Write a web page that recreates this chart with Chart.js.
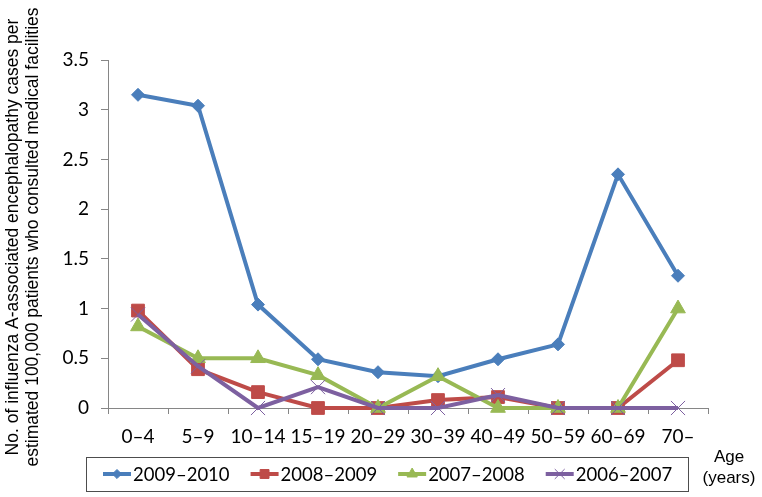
<!DOCTYPE html>
<html>
<head>
<meta charset="utf-8">
<script src="https://cdn.jsdelivr.net/npm/chart.js@4.4.1/dist/chart.umd.min.js"></script>
<style>
  html, body { margin: 0; padding: 0; background: #fff; }
  #wrap { width: 762px; height: 497px; position: relative; }
</style>
</head>
<body>
<div id="wrap"><canvas id="myChart" width="762" height="497"></canvas></div>
<script>
// age groups on the x axis
var ageGroups = ["0\u20134", "5\u20139", "10\u201314", "15\u201319", "20\u201329", "30\u201339", "40\u201349", "50\u201359", "60\u201369", "70\u2013"];

// cases per estimated 100,000 patients, one array per season
var season0910 = [3.15, 3.04, 1.04, 0.49, 0.36, 0.32, 0.49, 0.64, 2.35, 1.33];
var season0809 = [0.98, 0.39, 0.16, 0, 0, 0.08, 0.11, 0, 0, 0.48];
var season0708 = [0.82, 0.50, 0.50, 0.33, 0, 0.32, 0, 0, 0, 1.00];
var season0607 = [0.94, 0.42, 0, 0.21, 0, 0, 0.13, 0, 0, 0];

var seasonNames = ["2009\u20132010", "2008\u20132009", "2007\u20132008", "2006\u20132007"];
var yTicks = [0, 0.5, 1, 1.5, 2, 2.5, 3, 3.5];

var yTitle = ["No. of influenza A-associated encephalopathy cases per",
              "estimated 100,000 patients who consulted medical facilities"];
var xTitle = ["Age", "(years)"];

var tickFont = "Lato, Carlito, sans-serif";
var axisColor = "#868686";

function series(label, values, color, style, radius, order) {
	return {
		label: label,
		data: values,
		borderColor: color,
		backgroundColor: color,
		pointBackgroundColor: color,
		pointBorderColor: color,
		pointBorderWidth: 1,
		pointStyle: style,
		pointRadius: radius,
		pointHoverRadius: radius,
		borderWidth: 4,
		tension: 0,
		clip: false,
		order: order
	};
}

var datasets = [
	series(seasonNames[0], season0910, "#4A7EBB", "rectRot", 6.5, 4),
	series(seasonNames[1], season0809, "#BE4B48", "rect", 9, 3),
	series(seasonNames[2], season0708, "#98B954", "triangle", 8.5, 2),
	series(seasonNames[3], season0607, "#7D60A0", "crossRot", 10, 1)
];

// y title, legend box and "Age (years)" drawn by hand
var extras = {
	id: "extras",
	afterDraw: function(chart) {
		var ctx = chart.ctx;
		ctx.save();
		ctx.fillStyle = "#000";
		ctx.font = "17.5px 'Liberation Sans', Arial, sans-serif";
		ctx.textAlign = "center";
		ctx.textBaseline = "middle";
		ctx.save();
		ctx.translate(13, 237);
		ctx.rotate(-Math.PI / 2);
		ctx.fillText(yTitle[0], 0, 0);
		ctx.fillText(yTitle[1], 0, 20);
		ctx.restore();

		ctx.font = "17px 'Liberation Sans', Arial, sans-serif";
		ctx.fillText(xTitle[0], 729, 457);
		ctx.fillText(xTitle[1], 729, 478);

		// legend
		ctx.strokeStyle = "#4d4d4d";
		ctx.lineWidth = 1;
		ctx.strokeRect(86.5, 457.5, 602, 34);
		ctx.font = "18.5px " + tickFont;
		ctx.textAlign = "left";
		var x = 103, y = 474;
		chart.data.datasets.forEach(function(ds) {
			ctx.strokeStyle = ds.borderColor;
			ctx.lineWidth = 4;
			ctx.beginPath();
			ctx.moveTo(x, y);
			ctx.lineTo(x + 28, y);
			ctx.stroke();
			ctx.fillStyle = ds.pointBackgroundColor;
			ctx.strokeStyle = ds.pointBorderColor;
			ctx.lineWidth = ds.pointBorderWidth;
			Chart.helpers.drawPoint(ctx, {
				pointStyle: ds.pointStyle,
				radius: ds.pointRadius * 0.7,
				borderWidth: ds.pointBorderWidth,
				rotation: 0
			}, x + 14, y);
			ctx.fillStyle = "#000";
			ctx.fillText(ds.label, x + 30, y + 1);
			x += 30 + ctx.measureText(ds.label).width + 21;
		});
		ctx.restore();
	}
};

var ctx = document.getElementById("myChart");

var myChart = new Chart(ctx, {
	type: "line",
	data: {
		labels: ageGroups,
		datasets: datasets
	},
	options: {
		responsive: false,
		animation: false,
		layout: { padding: { left: 0, top: 60, right: 54, bottom: 0 } },
		plugins: {
			legend: { display: false },
			tooltip: { enabled: false }
		},
		scales: {
			x: {
				offset: true,
				grid: { offset: true, drawOnChartArea: false, color: axisColor, tickLength: 6, tickColor: axisColor },
				border: { color: axisColor, width: 1 },
				ticks: { color: "#000", font: { family: tickFont, size: 19 }, padding: 11, maxRotation: 0, autoSkip: false },
				afterFit: function(scale) {
					scale.height = 89;
					scale.paddingLeft = 0;
					scale.paddingRight = 0;
				}
			},
			y: {
				min: 0,
				max: 3.5,
				afterBuildTicks: function(scale) {
					scale.ticks = yTicks.map(function(v) { return { value: v }; });
				},
				grid: { drawOnChartArea: false, color: axisColor, tickLength: 7, tickColor: axisColor },
				border: { color: axisColor, width: 1 },
				ticks: {
					color: "#000",
					font: { family: tickFont, size: 19 },
					padding: 12,
					callback: function(v) { return String(v); }
				},
				afterFit: function(scale) {
					scale.width = 108;
					scale.paddingTop = 0;
					scale.paddingBottom = 0;
				}
			}
		}
	},
	plugins: [extras]
});
</script>
</body>
</html>
